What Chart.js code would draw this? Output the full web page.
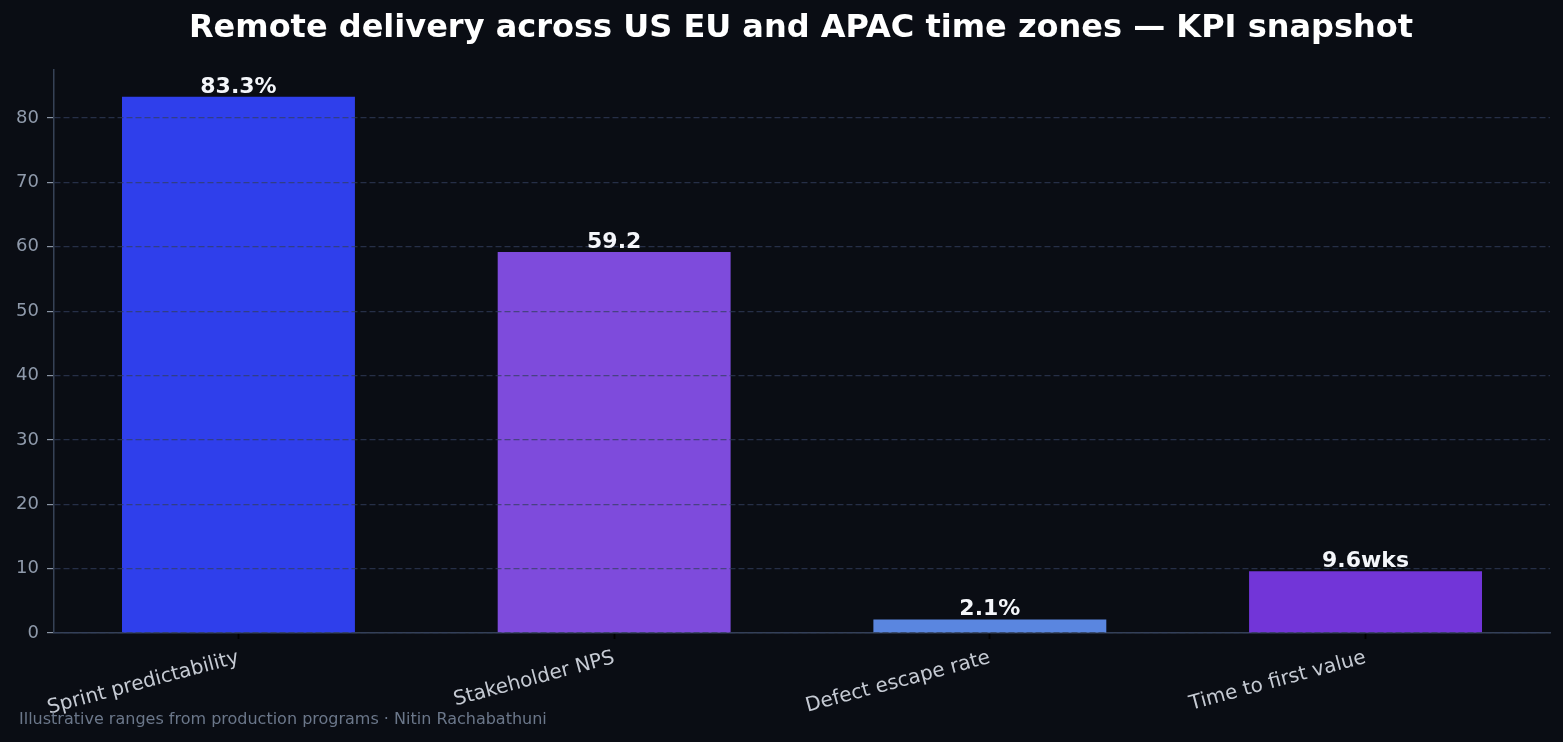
<!DOCTYPE html>
<html>
<head>
<meta charset="utf-8">
<script src="https://cdn.jsdelivr.net/npm/chart.js@4.4.1/dist/chart.umd.min.js"></script>
<style>
  html, body { margin: 0; padding: 0; background: #0a0d14; }
  #wrap { width: 1563px; height: 742px; position: relative; }
</style>
</head>
<body>
<div id="wrap"><canvas id="c" width="1563" height="742"></canvas></div>
<script>
const categories = ["Sprint predictability", "Stakeholder NPS", "Defect escape rate", "Time to first value"];
const values = [83.3, 59.2, 2.1, 9.6];
const valueLabels = ["83.3%", "59.2", "2.1%", "9.6wks"];
const barColors = ["#2f3feb", "#7e4bdc", "#5a86e0", "#7235d8"];
const yTicks = [0, 10, 20, 30, 40, 50, 60, 70, 80];
const titleText = "Remote delivery across US EU and APAC time zones \u2014 KPI snapshot";
const footText = "Illustrative ranges from production programs \u00b7 Nitin Rachabathuni";

const FONT = "'DejaVu Sans', sans-serif";
const positions = categories.map((_, i) => i);

const decor = {
  id: 'decor',
  beforeDraw(chart) {
    const ctx = chart.ctx;
    ctx.save();
    ctx.fillStyle = '#0a0d14';
    ctx.fillRect(0, 0, chart.width, chart.height);
    ctx.restore();
  },
  afterDraw(chart) {
    const ctx = chart.ctx;
    ctx.save();
    ctx.fillStyle = '#ffffff';
    ctx.font = "bold 32px " + FONT;
    ctx.textAlign = 'center';
    ctx.textBaseline = 'middle';
    ctx.fillText(titleText, 801, 29);

    ctx.fillStyle = '#6b778a';
    ctx.font = "16px " + FONT;
    ctx.textAlign = 'left';
    ctx.fillText(footText, 19, 720);

    const meta = chart.getDatasetMeta(0);
    ctx.fillStyle = '#f4f6fa';
    ctx.font = "bold 22px " + FONT;
    ctx.textAlign = 'center';
    ctx.textBaseline = 'alphabetic';
    meta.data.forEach((bar, i) => {
      ctx.fillText(valueLabels[i], bar.x, bar.y - 4);
    });
    ctx.restore();
  }
};

new Chart(document.getElementById('c'), {
  type: 'bar',
  data: {
    datasets: [{
      data: positions.map(i => ({ x: i, y: values[i] })),
      backgroundColor: barColors,
      borderWidth: 0,
      barPercentage: 0.62,
      categoryPercentage: 1.0
    }]
  },
  options: {
    responsive: false,
    animation: false,
    events: [],
    layout: { padding: { top: 70, right: 13, bottom: 0, left: 0 } },
    plugins: {
      legend: { display: false },
      title: { display: false },
      tooltip: { enabled: false }
    },
    scales: {
      x: {
        type: 'linear',
        min: -0.491,
        max: 3.491,
        offset: false,
        z: 1,
        grid: {
          display: true,
          offset: false,
          drawOnChartArea: false,
          drawTicks: true,
          tickLength: 6,
          tickColor: '#000000',
          tickWidth: 1.8
        },
        border: { display: true, color: '#364256', width: 1.5 },
        ticks: {
          color: '#c5cad3',
          font: { family: FONT, size: 20 },
          minRotation: 15,
          maxRotation: 15,
          padding: 7,
          autoSkip: false,
          callback: (v) => categories[v]
        },
        afterBuildTicks(scale) {
          scale.ticks = positions.map(v => ({ value: v }));
        },
        afterFit(scale) { scale.height = 109; }
      },
      y: {
        z: 1,
        min: 0,
        max: 87.465,
        grid: {
          z: 1,
          color: 'rgba(50,62,92,0.7)',
          lineWidth: 1.2,
          tickBorderDash: [],
          tickColor: '#8a95a5',
          tickLength: 7,
          tickWidth: 1.2
        },
        border: { display: true, color: '#364256', width: 1.5, dash: [6, 3], z: 1 },
        ticks: {
          color: '#8f9aab',
          font: { family: FONT, size: 18 },
          padding: 8
        },
        afterBuildTicks(scale) {
          scale.ticks = yTicks.map(v => ({ value: v }));
        },
        afterFit(scale) { scale.width = 54; }
      }
    }
  },
  plugins: [decor]
});
</script>
</body>
</html>
